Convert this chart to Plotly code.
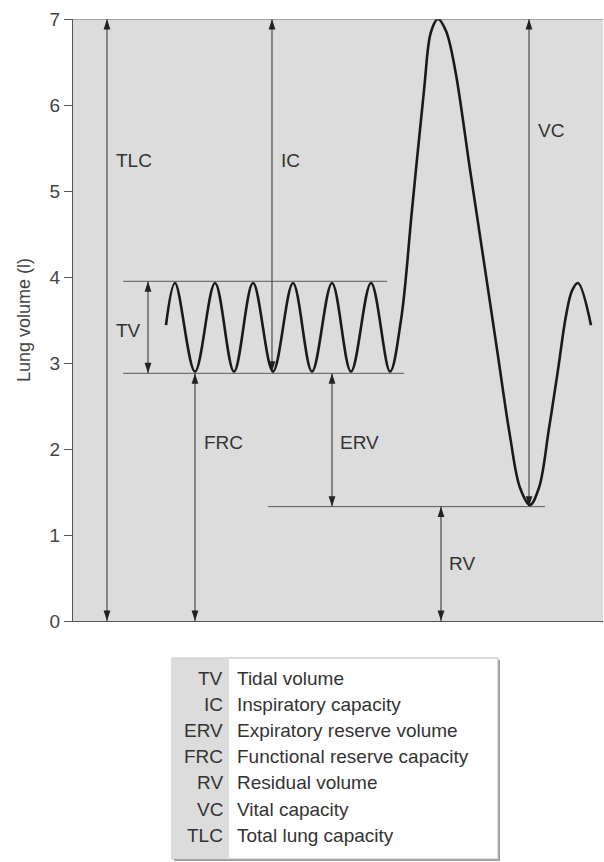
import plotly.graph_objects as go

# ---------------- data ----------------
# lung volume trace: time position (arbitrary units) and volume (l)
curve_t = [166, 175, 195, 215, 234, 253, 273, 293, 312, 332, 351, 371, 390,
           401, 412, 424, 431, 438, 446, 455, 470, 484, 497, 510, 520, 530,
           539, 549, 558, 566, 572, 578, 591]
curve_v = [3.44, 3.93, 2.90, 3.93, 2.90, 3.93, 2.90, 3.93, 2.90, 3.93, 2.90, 3.93, 2.90,
           3.50, 4.78, 6.17, 6.85, 7.00, 6.86, 6.42, 5.25, 4.17, 3.16, 2.15, 1.55, 1.35,
           1.55, 2.24, 2.92, 3.55, 3.84, 3.93, 3.44]

# reference volume levels (l)
level_names = ["TV top", "FRC", "RV"]
level_values = [3.95, 2.88, 1.33]
level_t_start = [123, 123, 268]
level_t_end = [387, 404, 545]

# double-headed measurement arrows
arrow_names = ["TLC", "IC", "TV", "FRC", "ERV", "RV", "VC"]
arrow_t = [107, 272, 148, 195, 332, 441, 529]
arrow_low = [0.0, 2.90, 2.88, 0.0, 1.33, 0.0, 1.33]
arrow_high = [7.0, 7.0, 3.95, 2.88, 2.88, 1.33, 7.0]
label_t = [114, 279, 143, 202, 338, 447, 536]
label_v = [5.36, 5.36, 3.38, 2.08, 2.08, 0.67, 5.70]
label_side = ["left", "left", "right", "left", "left", "left", "left"]

y_ticks = [0, 1, 2, 3, 4, 5, 6, 7]

legend_abbr = ["TV", "IC", "ERV", "FRC", "RV", "VC", "TLC"]
legend_text = ["Tidal volume", "Inspiratory capacity", "Expiratory reserve volume",
               "Functional reserve capacity", "Residual volume", "Vital capacity",
               "Total lung capacity"]

# ---------------- figure ----------------
FONT = "Liberation Sans, Arial, Helvetica, sans-serif"
TXT = "#333333"
LINE = "#4a4a4a"

W, H = 604, 862
ML, MR, MT, MB = 73, 1, 19, 241
PW, PH = W - ML - MR, H - MT - MB

def px(x):
    return (x - ML) / PW

def py(y):
    return (H - MB - y) / PH

fig = go.Figure()

# guide lines
for v, t0, t1 in zip(level_values, level_t_start, level_t_end):
    fig.add_trace(go.Scatter(x=[t0, t1], y=[v, v], mode="lines",
                             line=dict(color="#5a5a5a", width=1),
                             hoverinfo="skip", showlegend=False))

# arrows
for t, lo, hi in zip(arrow_t, arrow_low, arrow_high):
    fig.add_trace(go.Scatter(x=[t, t], y=[lo, hi], mode="lines+markers",
                             line=dict(color=LINE, width=1.2),
                             marker=dict(symbol="arrow", size=11, angle=[180, 0],
                                         color="#222222", line=dict(width=0)),
                             cliponaxis=False, hoverinfo="skip", showlegend=False))

# volume trace
fig.add_trace(go.Scatter(x=curve_t, y=curve_v, mode="lines",
                         line=dict(color="#1a1a1a", width=2.6, shape="spline", smoothing=1.0),
                         cliponaxis=False, hoverinfo="skip", showlegend=False))

# labels
for name, t, v, side in zip(arrow_names, label_t, label_v, label_side):
    fig.add_annotation(x=t, y=v, xref="x", yref="y", text=name, showarrow=False,
                       xanchor=side, yanchor="middle",
                       font=dict(family=FONT, size=19, color=TXT))

# top border line of the plot
fig.add_shape(type="line", xref="paper", yref="y", x0=0, x1=1, y0=7, y1=7,
              line=dict(color="#6a6a6a", width=1))

# legend table
box_x0, box_x1 = 172, 498
box_y0, box_y1 = 658, 859
col_x = 229

fig.add_shape(type="rect", xref="paper", yref="paper",
              x0=px(box_x0 + 2), x1=px(box_x1 + 2), y0=py(box_y1 + 2), y1=py(box_y0 + 2),
              fillcolor="#a0a0a0", line=dict(width=0))
fig.add_shape(type="rect", xref="paper", yref="paper",
              x0=px(box_x0), x1=px(box_x1), y0=py(box_y1), y1=py(box_y0),
              fillcolor="white", line=dict(color="#b8b8b8", width=1))
fig.add_shape(type="rect", xref="paper", yref="paper",
              x0=px(box_x0 + 1), x1=px(col_x), y0=py(box_y1 - 1), y1=py(box_y0 + 1),
              fillcolor="#dcdcdc", line=dict(width=0))

row0, row_step = 678, 26.2
for i, (ab, tx) in enumerate(zip(legend_abbr, legend_text)):
    yy = py(row0 + i * row_step)
    fig.add_annotation(x=px(col_x - 4), y=yy, xref="paper", yref="paper", text=ab,
                       showarrow=False, xanchor="right", yanchor="middle",
                       font=dict(family=FONT, size=19, color=TXT))
    fig.add_annotation(x=px(col_x + 6), y=yy, xref="paper", yref="paper", text=tx,
                       showarrow=False, xanchor="left", yanchor="middle",
                       font=dict(family=FONT, size=19, color=TXT))

fig.update_layout(
    width=W, height=H,
    margin=dict(l=ML, r=MR, t=MT, b=MB, autoexpand=False),
    paper_bgcolor="white",
    plot_bgcolor="#dcdcdc",
    font=dict(family=FONT, color=TXT),
    xaxis=dict(range=[73, 603], showgrid=False, zeroline=False, showticklabels=False,
               ticks="", showline=True, linecolor="#555555", linewidth=1.2, fixedrange=True),
    yaxis=dict(range=[0, 7], tickvals=y_ticks, ticktext=[str(v) for v in y_ticks],
               showgrid=False, zeroline=False, ticks="outside", ticklen=8,
               tickcolor="#555555", tickwidth=1.2, showline=True, linecolor="#555555",
               linewidth=1.2, tickfont=dict(family=FONT, size=19, color="#444444"),
               title=dict(text="Lung volume (l)", standoff=14,
                          font=dict(family=FONT, size=18, color="#444444")),
               fixedrange=True),
)

fig.write_html("out.html", config={"displayModeBar": False},
               post_script="document.body.style.margin='0px';")
